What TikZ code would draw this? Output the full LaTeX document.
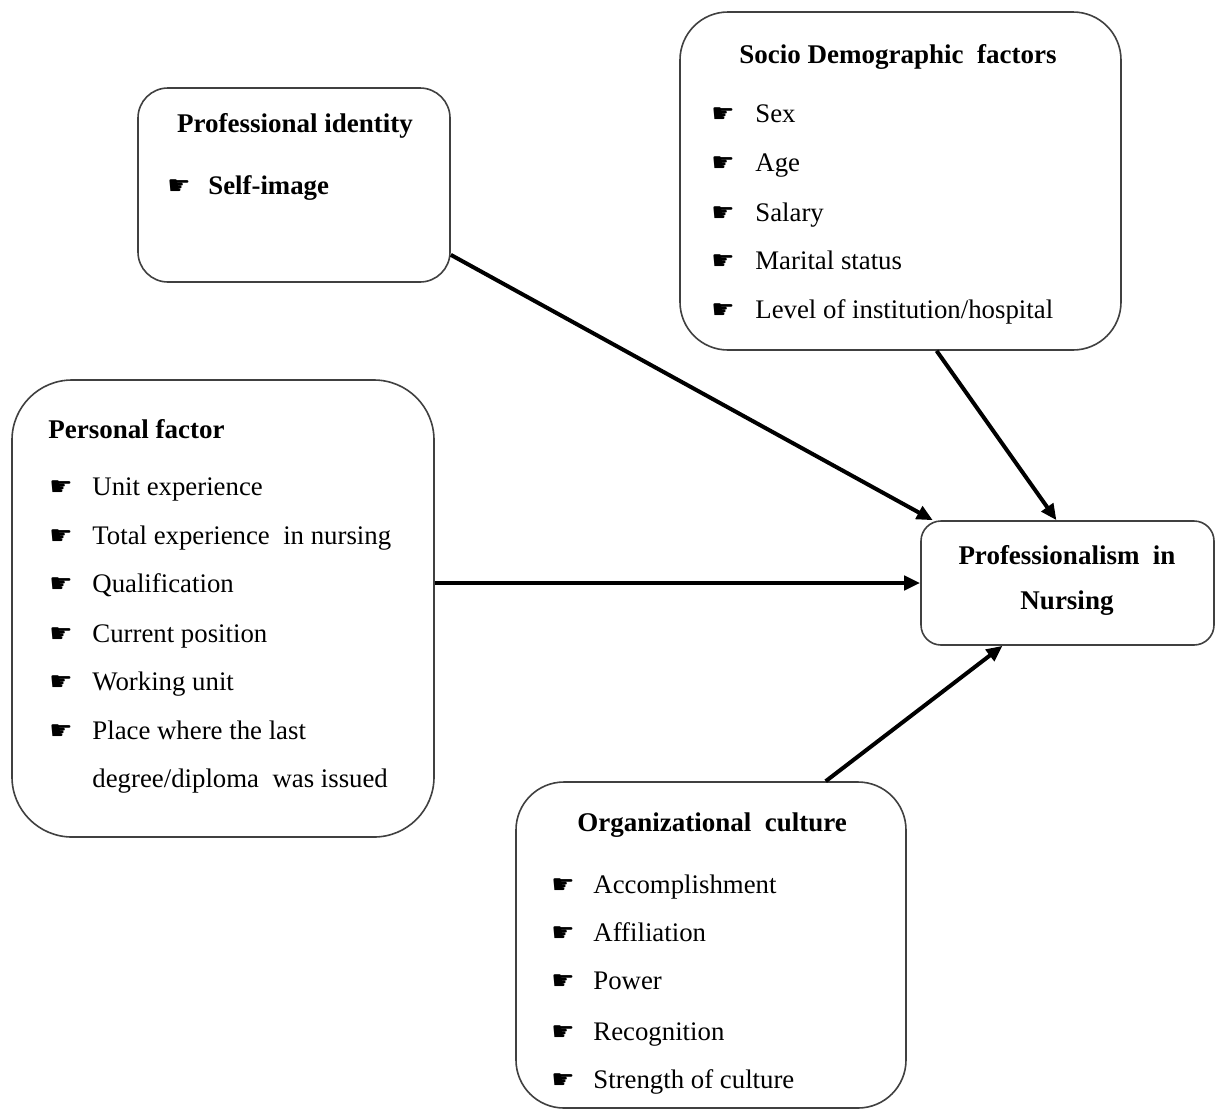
\documentclass[tikz,border=0pt]{standalone}
\usepackage{fontspec}
\setmainfont{Liberation Serif}
\newfontfamily\handfont{DejaVu Sans}
\usetikzlibrary{arrows.meta}
\newcommand{\hand}{{\handfont\fontsize{13}{13}\selectfont ☛}}
\tikzset{
    box/.style={draw=black!75, line width=0.8pt, fill=white},
    head/.style={font=\bfseries\fontsize{13.5}{15}\selectfont, inner sep=0pt, yshift=-1.3pt},
    item/.style={anchor=west, font=\fontsize{13.4}{15}\selectfont, inner sep=0pt, text height=11pt, text depth=1.7pt},
    bul/.style={anchor=center, inner sep=0pt, yshift=-1.2pt},
    link/.style={line width=2pt, -{Triangle[length=8pt, width=7pt]}}
}
\begin{document}
\begin{tikzpicture}[x=0.5pt, y=-0.5pt]
    \useasboundingbox (0,0) rectangle (1216,1110);

    % Boxes
    \node[box, rounded corners=15pt, minimum width=156pt, minimum height=97pt] (ident) at (294,185) {};
    \node[box, rounded corners=24pt, minimum width=220.5pt, minimum height=169pt] (socio) at (900.5,181) {};
    \node[box, rounded corners=30pt, minimum width=211pt, minimum height=228.5pt] (pers) at (223,608.5) {};
    \node[box, rounded corners=10pt, minimum width=146.5pt, minimum height=62pt] (prof) at (1067.5,583) {};
    \node[box, rounded corners=24pt, minimum width=195pt, minimum height=163pt] (org) at (711,945) {};

    % Professional identity
    \node[head] (identhead) at (295,123) {Professional identity};
    \node[bul] (identb1) at (179,185) {\hand};
    \node[item, font=\bfseries\fontsize{13.4}{15}\selectfont] (identi1) at (208,185) {Self-image};

    % Socio demographic factors
    \node[head] (sociohead) at (898,54) {Socio Demographic\ \ factors};
    \node[bul] (sociob1) at (723,113) {\hand};
    \node[item] (socioi1) at (755,113) {Sex};
    \node[bul] (sociob2) at (723,162) {\hand};
    \node[item] (socioi2) at (755,162) {Age};
    \node[bul] (sociob3) at (723,212) {\hand};
    \node[item] (socioi3) at (755,212) {Salary};
    \node[bul] (sociob4) at (723,260) {\hand};
    \node[item] (socioi4) at (755,260) {Marital status};
    \node[bul] (sociob5) at (723,309) {\hand};
    \node[item] (socioi5) at (755,309) {Level of institution/hospital};

    % Personal factor
    \node[head, anchor=west] (pershead) at (48,427) {Personal factor};
    \node[bul] (persb1) at (61,486) {\hand};
    \node[item] (persi1) at (92,486) {Unit experience};
    \node[bul] (persb2) at (61,535) {\hand};
    \node[item] (persi2) at (92,535) {Total experience\ \ in nursing};
    \node[bul] (persb3) at (61,583) {\hand};
    \node[item] (persi3) at (92,583) {Qualification};
    \node[bul] (persb4) at (61,633) {\hand};
    \node[item] (persi4) at (92,633) {Current position};
    \node[bul] (persb5) at (61,681) {\hand};
    \node[item] (persi5) at (92,681) {Working unit};
    \node[bul] (persb6) at (61,730) {\hand};
    \node[item] (persi6) at (92,730) {Place where the last};
    \node[item] (persi7) at (92,778) {degree/diploma\ \ was issued};

    % Professionalism in Nursing
    \node[head] (profl1) at (1067,553) {Professionalism\ \ in};
    \node[head] (profl2) at (1067,601) {Nursing};

    % Organizational culture
    \node[head] (orghead) at (712,822) {Organizational\ \ culture};
    \node[bul] (orgb1) at (563,884) {\hand};
    \node[item] (orgi1) at (593,884) {Accomplishment};
    \node[bul] (orgb2) at (563,932) {\hand};
    \node[item] (orgi2) at (593,932) {Affiliation};
    \node[bul] (orgb3) at (563,980) {\hand};
    \node[item] (orgi3) at (593,980) {Power};
    \node[bul] (orgb4) at (563,1031) {\hand};
    \node[item] (orgi4) at (593,1031) {Recognition};
    \node[bul] (orgb5) at (563,1079) {\hand};
    \node[item] (orgi5) at (593,1079) {Strength of culture};

    % Arrows into the outcome
    \draw[link] (ident.-24) -- (prof.155);
    \draw[link] (socio.-78) -- (prof.100);
    \draw[link] (pers.east |- prof.west) -- (prof.west);
    \draw[link] (org.55) -- (prof.-136);
\end{tikzpicture}
\end{document}
